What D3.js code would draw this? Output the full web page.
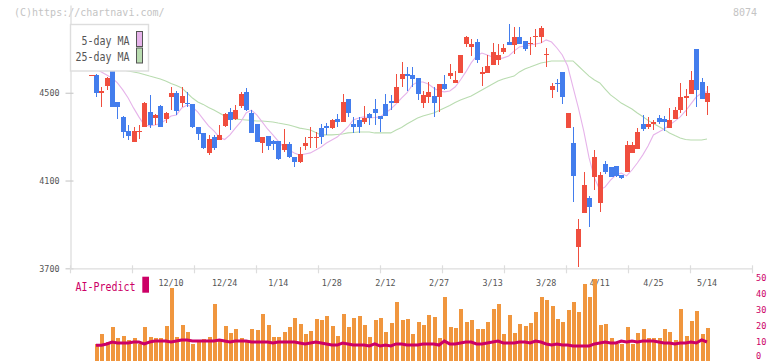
<!DOCTYPE html>
<html><head><meta charset="utf-8">
<script src="https://cdn.jsdelivr.net/npm/d3@7"></script>
<style>body{margin:0;background:#fff}svg{display:block}</style>
</head><body>
<svg id="c" width="772" height="361"></svg>
<script>
// ---- data ----
const openP=[4581,4500,4531,4599,4458,4391,4327,4277,4325,4345,
4414,4384,4440,4380,4479,4500,4452,4455,4449,4343,
4315,4224,4297,4285,4350,4414,4380,4441,4505,4409,
4358,4270,4303,4282,4282,4239,4266,4209,4186,4257,
4298,4299,4338,4349,4338,4380,4368,4472,4358,4376,
4368,4403,4426,4394,4449,4462,4452,4564,4585,4581,
4567,4455,4482,4485,4482,4539,4578,4546,4591,4722,
4710,4730,4586,4591,4627,4649,4684,4730,4718,4753,
4737,4724,4753,4756,4671,4513,4543,4593,4341,4270,
3798,3951,4019,4117,3996,4174,4163,4166,4125,4140,
4224,4242,4356,4343,4356,4384,4380,4341,4380,4421,
4478,4494,4699,4548,4459];
const closeP=[4500,4509,4566,4436,4436,4323,4304,4327,4327,4455,
4353,4399,4345,4409,4498,4417,4485,4447,4343,4312,
4247,4288,4247,4307,4403,4376,4421,4494,4421,4318,
4277,4297,4257,4266,4197,4266,4206,4186,4221,4272,
4300,4300,4297,4338,4376,4368,4458,4409,4345,4345,
4386,4386,4406,4382,4395,4452,4525,4585,4578,4564,
4493,4490,4504,4455,4539,4516,4589,4558,4672,4753,
4722,4649,4593,4622,4684,4672,4703,4718,4753,4722,
4698,4726,4760,4794,4677,4531,4540,4482,4406,4122,
3879,4080,3978,4209,4125,4138,4117,4122,4110,4262,
4262,4323,4333,4356,4365,4368,4368,4376,4421,4482,
4485,4558,4513,4472,4500];
const highP=[4585,4525,4572,4608,4458,4394,4353,4344,4353,4458,
4490,4403,4444,4414,4528,4508,4528,4505,4451,4344,
4317,4307,4307,4353,4408,4430,4444,4505,4522,4421,
4358,4299,4303,4285,4282,4335,4277,4209,4254,4297,
4344,4323,4358,4361,4379,4403,4494,4472,4391,4391,
4440,4409,4472,4394,4494,4490,4585,4642,4619,4619,
4567,4509,4549,4528,4539,4581,4631,4601,4672,4760,
4744,4744,4619,4672,4728,4722,4722,4813,4798,4798,
4737,4753,4789,4804,4703,4546,4561,4593,4406,4345,
3925,4140,4029,4239,4140,4189,4163,4166,4125,4280,
4277,4341,4399,4388,4376,4399,4394,4429,4434,4546,
4516,4599,4699,4566,4531];
const lowP=[4482,4434,4513,4436,4380,4295,4285,4276,4289,4343,
4339,4353,4344,4362,4421,4400,4437,4437,4340,4285,
4243,4216,4239,4283,4344,4330,4376,4430,4419,4317,
4275,4227,4239,4239,4195,4231,4203,4163,4181,4239,
4248,4248,4266,4307,4333,4343,4368,4391,4318,4318,
4358,4353,4353,4323,4395,4421,4452,4528,4509,4528,
4467,4429,4455,4390,4411,4513,4561,4543,4591,4707,
4668,4637,4532,4591,4627,4627,4677,4718,4677,4722,
4692,4672,4707,4728,4619,4475,4505,4449,4341,4004,
3706,3951,3890,4057,3958,4130,4115,4117,4106,4140,
4224,4242,4327,4333,4330,4358,4327,4341,4380,4406,
4394,4494,4436,4472,4399];
const ma5=[4608,4595,4581,4567,4545,4513,4476,4431,4390,4353,
4349,4353,4360,4376,4394,4399,4431,4444,4435,4412,
4380,4349,4326,4298,4287,4308,4339,4367,4408,4421,
4399,4367,4335,4308,4280,4253,4239,4226,4216,4221,
4226,4239,4253,4271,4285,4298,4321,4344,4376,4385,
4390,4385,4387,4390,4408,4426,4449,4476,4499,4535,
4549,4549,4540,4522,4508,4504,4508,4526,4558,4595,
4636,4668,4681,4672,4663,4654,4659,4668,4690,4709,
4713,4718,4722,4727,4741,4731,4704,4672,4622,4526,
4431,4326,4203,4112,4057,4071,4102,4125,4134,4121,
4148,4180,4216,4257,4308,4321,4335,4353,4371,4390,
4417,4449,4481,4499,4504];
const ma25=[4631,4627,4620,4613,4608,4604,4599,4595,4590,4583,
4576,4570,4563,4554,4542,4533,4522,4499,4476,4458,
4447,4433,4421,4408,4394,4385,4380,4378,4376,4374,
4371,4371,4369,4367,4362,4358,4353,4346,4339,4335,
4330,4319,4308,4308,4308,4310,4312,4317,4319,4321,
4321,4321,4317,4317,4317,4317,4330,4342,4358,4371,
4385,4394,4401,4408,4419,4431,4442,4456,4467,4476,
4485,4499,4513,4526,4540,4554,4563,4570,4576,4595,
4608,4617,4627,4636,4640,4645,4645,4645,4645,4645,
4622,4599,4576,4558,4545,4517,4490,4472,4453,4440,
4426,4408,4392,4374,4360,4346,4333,4317,4305,4294,
4287,4285,4285,4285,4289];
const volume=[8.75,15,10,19.4,12.5,13.75,11.25,12.5,8.75,19.4,
13.1,12.5,12.5,20,43.75,13.1,20.6,16.25,8.75,10,
11.9,13.1,33.75,11.9,20,15.6,18.1,12.5,10.6,18.1,
17.5,27.5,20.6,13.1,13.1,16.25,19.4,25,21.25,15,
16.9,24.4,23.75,26.25,20,13.75,27.5,19.4,25,26.25,
20.6,13.1,23.75,25,16.25,21.9,35,23.75,24.4,15,
22.5,20.6,26.9,25.6,12.5,38.1,19.4,18.75,30.6,22.5,
23.75,18.1,18.1,22.5,30.6,33.75,15,26.9,15.6,21.25,
20,21.9,28.75,38.1,36.25,32.5,24.4,22.5,30,35,
28.75,46.25,38.1,49.4,20.6,21.25,12.5,8.75,8.75,19.4,
8.75,15.6,18.1,12.5,12.5,12.5,18.1,16.25,11.25,30.6,
13.75,23.1,29.4,15,18.75];
const aiPredict=[7.75,7.75,8.6,9.8,9.2,9.2,9.2,9.8,9.8,8.6,
9.8,10.4,10.4,10.4,9.8,10.4,11.1,11.1,10.4,10.4,
10.4,10.4,10.4,11.1,10.4,9.8,10.4,10.4,10.4,9.8,
9.8,9.8,9.8,9.2,9.8,9.8,9.8,9.8,9.2,8.6,
9.2,9.8,9.2,8.6,7.9,7.9,9.2,8.6,7.9,7.9,
7.9,7.3,8.6,7.3,7.9,7.3,8.6,8.6,7.9,7.9,
7.9,8.6,8.6,8.6,7.9,10.4,8.6,8.6,9.2,9.8,
9.8,8.6,8.6,9.2,9.8,10.4,9.2,9.2,9.2,9.8,
9.8,9.2,10.4,9.8,8.6,7.9,8.6,7.9,7.9,7.3,
7.3,7.3,7.3,8.6,9.2,9.8,9.2,9.2,10.4,9.8,
10.4,9.8,10.4,10.4,10.4,9.8,9.2,9.2,8.6,9.2,
9.2,9.8,9.2,11.1,9.8];
const prevClose=4581;
const dateLabels=["12/10","12/24","1/14","1/28","2/12","2/27","3/13","3/28","4/11","4/25","5/14"];
const dateIdx=[14,24,34,44,54,64,74,84,94,104,114];
const priceTicks=[3700,4100,4500];
const aiTicks=[0,10,20,30,40,50];

// ---- drawing ----
const svg=d3.select("#c");
const mono="'DejaVu Sans Mono', monospace";
const x=d3.scaleLinear().domain([0,114]).range([96,707]);
const y=d3.scaleLinear().domain([3700,4900]).range([268.3,5]);
const yv=d3.scaleLinear().domain([0,50]).range([357.7,277.7]);
const xt=d3.scaleLinear().domain([0,11]).range([70,752]);
const idx=d3.range(openP.length);

// header texts
svg.append("text").attr("x",14).attr("y",15.5).attr("font-family",mono).attr("font-size",10)
  .attr("fill","#c4c4c4").text("(C)https://chartnavi.com/");
svg.append("text").attr("x",757).attr("y",15.5).attr("text-anchor","end").attr("font-family",mono).attr("font-size",10)
  .attr("fill","#c4c4c4").text("8074");

// left axis
const ya=svg.append("g").attr("transform","translate(70.5,0)")
  .call(d3.axisLeft(y).tickValues(priceTicks).tickSizeInner(5).tickSizeOuter(0).tickPadding(6).tickFormat(d3.format("d")));
ya.select(".domain").attr("stroke","#ddd").attr("stroke-width",1.3);
ya.selectAll(".tick line").attr("stroke","#ccc").attr("x1",3).attr("stroke-width",1.2);
ya.selectAll(".tick text").attr("font-family",mono).attr("font-size",8.4).attr("fill","#555");

// bottom axis
const xa=svg.append("g").attr("transform","translate(0,268.3)")
  .call(d3.axisBottom(xt).tickValues(d3.range(0,12)).tickSizeInner(5).tickSizeOuter(0).tickFormat(""));
xa.select(".domain").attr("stroke","#ddd").attr("stroke-width",1.3);
xa.selectAll(".tick line").attr("stroke","#ddd").attr("y1",-3).attr("stroke-width",1.2);

// date labels
svg.append("g").selectAll("text").data(dateIdx).join("text")
  .attr("x",d=>x(d)).attr("y",285.5).attr("text-anchor","middle")
  .attr("font-family",mono).attr("font-size",8.4).attr("fill","#555")
  .text((d,k)=>dateLabels[k]);

// moving averages
const line=(arr)=>d3.line().x((d,i)=>x(i)).y(d=>y(d))(arr);
svg.append("path").attr("d",line(ma25)).attr("fill","none").attr("stroke","#b9dcb0").attr("stroke-width",1.1);
svg.append("path").attr("d",line(ma5)).attr("fill","none").attr("stroke","#e6b3ea").attr("stroke-width",1.1);

// candles
const RED="#f04e3e", BLUE="#437ded";
const cg=svg.append("g").attr("shape-rendering","crispEdges");
cg.selectAll("line.w").data(idx).join("line").attr("class","w")
  .attr("x1",i=>Math.round(x(i))+0.5).attr("x2",i=>Math.round(x(i))+0.5)
  .attr("y1",i=>y(highP[i])).attr("y2",i=>y(lowP[i]))
  .attr("stroke",i=>closeP[i]>=openP[i]?RED:BLUE).attr("stroke-width",1);
cg.selectAll("rect.b").data(idx).join("rect").attr("class","b")
  .attr("x",i=>Math.round(x(i))-2).attr("width",5)
  .attr("y",i=>y(Math.max(openP[i],closeP[i])))
  .attr("height",i=>Math.max(1,Math.abs(y(openP[i])-y(closeP[i]))))
  .attr("fill",i=>closeP[i]>=openP[i]?RED:BLUE);
// previous close dash
cg.append("rect").attr("x",Math.round(x(-1))-2).attr("width",6).attr("y",y(prevClose)).attr("height",1).attr("fill",RED);

// legend box
svg.append("rect").attr("x",70.5).attr("y",24.5).attr("width",78).attr("height",46.5)
  .attr("fill","#fff").attr("stroke","#ddd").attr("stroke-width",1.4);
const lg=[{t:"5-day MA",c:"#e6b3ea",y:44.5},{t:"25-day MA",c:"#b9dcb0",y:61}];
lg.forEach(d=>{
  svg.append("text").attr("x",129.5).attr("y",d.y).attr("text-anchor","end")
    .attr("font-family",mono).attr("font-size",12).attr("fill","#555")
    .attr("textLength",d.t.length*6).attr("lengthAdjust","spacingAndGlyphs").text(d.t);
  svg.append("rect").attr("x",136.5).attr("y",d.y-13).attr("width",6).attr("height",15)
    .attr("fill",d.c).attr("stroke","#555").attr("stroke-width",1);
});

// volume bars
svg.append("g").attr("shape-rendering","crispEdges").selectAll("rect").data(idx).join("rect")
  .attr("x",i=>Math.round(x(i))-1.5).attr("width",4)
  .attr("y",i=>yv(volume[i])).attr("height",i=>361-yv(volume[i]))
  .attr("fill","#f0963e");

// AI-Predict line
svg.append("path").attr("d",d3.line().x((d,i)=>x(i)).y(d=>yv(d))(aiPredict))
  .attr("fill","none").attr("stroke","#cc0066").attr("stroke-width",3);

// AI-Predict label
svg.append("text").attr("x",75.5).attr("y",290.5).attr("font-family",mono).attr("font-size",12)
  .attr("fill","#cc0066").attr("textLength",60).attr("lengthAdjust","spacingAndGlyphs").text("AI-Predict");
svg.append("rect").attr("x",142.3).attr("y",276.7).attr("width",6.7).attr("height",16).attr("fill","#cc0066");

// right axis labels
svg.append("g").selectAll("text").data(aiTicks).join("text")
  .attr("x",756).attr("y",d=>Math.min(yv(d)+3,358.5)).attr("font-family",mono).attr("font-size",8.6)
  .attr("fill","#cc0066").text(d=>d);
</script>
</body></html>
